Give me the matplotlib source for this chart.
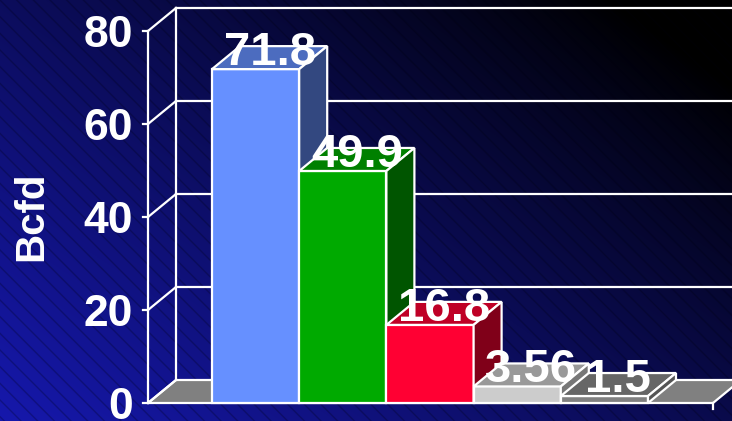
import numpy as np
import matplotlib
matplotlib.use('Agg')
import matplotlib.pyplot as plt
from matplotlib.patches import Polygon, Rectangle

values = [71.8, 49.9, 16.8, 3.56, 1.5]
labels = ['71.8', '49.9', '16.8', '3.56', '1.5']
front_colors = ['#6690ff', '#00aa00', '#ff0033', '#cccccc', '#808080']
top_colors = ['#4c6cbf', '#008000', '#bf0026', '#999999', '#666666']
side_colors = ['#334880', '#005500', '#800019', '#777777', '#555555']
yticks = [0, 20, 40, 60, 80]
ylabel = 'Bcfd'

# geometry (pixels -> data units)
W, H = 732, 421
px_x = 87.2          # pixels per category
px_y = 4.65          # pixels per Bcfd
dx = 28 / px_x       # depth offset
dy = 23 / px_y
x_left = -0.5 - 64 / px_x
x_right = 4.5 + 65 / px_x
x0_pix, y0_pix = 212, 403   # where x=-0.5, y=0 land in the picture

plt.rcParams['font.family'] = ['Liberation Sans', 'DejaVu Sans']

fig = plt.figure(figsize=(W / 100, H / 100), dpi=100)
ax = fig.add_axes([0, 0, 1, 1])
xmin = -0.5 - x0_pix / px_x
xmax = -0.5 + (W - x0_pix) / px_x
ymin = -(H - y0_pix) / px_y
ymax = y0_pix / px_y
ax.set_xlim(xmin, xmax)
ax.set_ylim(ymin, ymax)
ax.axis('off')

# background gradient
gx, gy = np.meshgrid(np.linspace(0, 1, 400), np.linspace(0, 1, 240))
t = np.clip(0.6 * gx + 0.5 * gy, 0, 1)   # gy: 0 bottom .. 1 top
c0 = np.array([22, 24, 172]) / 255
c1 = np.array([0, 0, 0]) / 255
img = c0[None, None, :] * (1 - t[..., None]) ** 0.9 + c1[None, None, :] * t[..., None]
ax.imshow(img, extent=[xmin, xmax, ymin, ymax], origin='lower', aspect='auto', zorder=0)
ax.add_patch(Rectangle((xmin, ymin), xmax - xmin, ymax - ymin, facecolor='none',
                       edgecolor=(0, 0, 0.05, 0.25), linewidth=0, hatch='\\\\', zorder=0.5))

lw = 1.6
white = 'white'

# floor
ax.add_patch(Polygon([(x_left, 0), (x_right, 0), (x_right + dx, dy), (x_left + dx, dy)],
                     closed=True, facecolor='#808080', edgecolor=white, linewidth=lw, zorder=1))

# walls and grid
ax.plot([x_left, x_left], [0, yticks[-1]], color=white, lw=lw, zorder=1.5)
ax.plot([x_left + dx, x_left + dx], [dy, yticks[-1] + dy], color=white, lw=lw, zorder=1.5)
for tk in yticks:
    ax.plot([x_left, x_left + dx], [tk, tk + dy], color=white, lw=lw, zorder=1.5)
    if tk > 0:
        ax.plot([x_left + dx, xmax + 1], [tk + dy, tk + dy], color=white, lw=lw, zorder=1.5)
    ax.plot([x_left - 5 / px_x, x_left], [tk, tk], color=white, lw=lw, zorder=1.5)
    ax.text(x_left - 15 / px_x, tk, str(tk), color=white, fontsize=32, fontweight='bold',
            ha='right', va='center_baseline', zorder=5)
ax.plot([x_right, x_right], [0, -6 / px_y], color=white, lw=lw, zorder=1.5)

# bars
for i, v in enumerate(values):
    x0 = i - 0.5
    x1 = i + 0.5
    z = 2 + i
    ax.add_patch(Polygon([(x0, 0), (x1, 0), (x1, v), (x0, v)], closed=True,
                         facecolor=front_colors[i], edgecolor=white, linewidth=lw, zorder=z))
    ax.add_patch(Polygon([(x0, v), (x1, v), (x1 + dx, v + dy), (x0 + dx, v + dy)], closed=True,
                         facecolor=top_colors[i], edgecolor=white, linewidth=lw, zorder=z))
    ax.add_patch(Polygon([(x1, 0), (x1 + dx, dy), (x1 + dx, v + dy), (x1, v)], closed=True,
                         facecolor=side_colors[i], edgecolor=white, linewidth=lw, zorder=z))

for i, v in enumerate(values):
    ax.text(i + dx / 2, v + 0.9, labels[i], color=white, fontsize=34, fontweight='bold',
            ha='center', va='baseline', zorder=10)

ax.text(31 / px_x + xmin, 216 * -1 / px_y + ymax, ylabel, color=white, fontsize=29,
        fontweight='bold', rotation=90, ha='center', va='center', zorder=10)

fig.savefig('out.png', dpi=100)
